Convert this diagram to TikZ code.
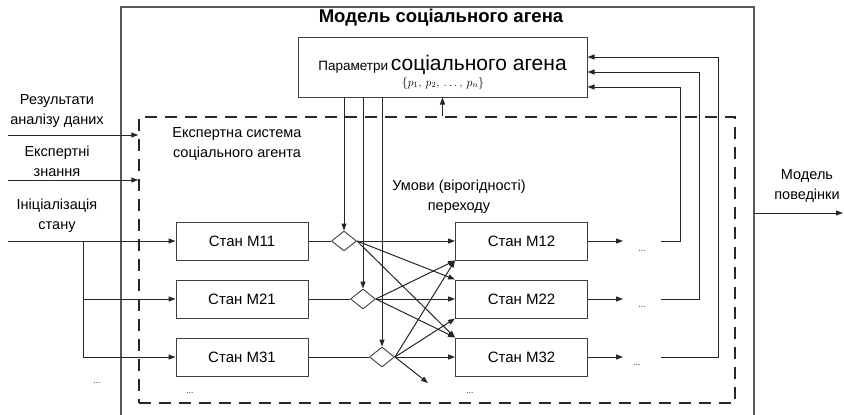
\documentclass[tikz,border=0pt]{standalone}
\usepackage{fontspec}
\setmainfont{Liberation Sans}
\usetikzlibrary{shapes.geometric,arrows.meta}
\tikzset{
  stanbox/.style={draw=black!75, line width=1pt, minimum width=132pt, minimum height=38pt, inner sep=0pt, font=\fontsize{15}{17}\selectfont},
  umova/.style={draw=black!75, line width=0.9pt, diamond, minimum width=25pt, minimum height=20pt, inner sep=0pt},
  lbl/.style={align=center, font=\fontsize{14.5}{20}\selectfont},
  dotsn/.style={font=\fontsize{8}{9}\selectfont, inner sep=0pt},
  link/.style={draw=black!85, line width=1pt},
  arr/.style={link, -{Triangle[length=7pt,width=5pt]}},
}
\begin{document}
\begin{tikzpicture}[x=1pt,y=-1pt]
      \useasboundingbox (0,0) rectangle (844,415);
      % outer model frame
      \draw[draw=black!65, line width=1.6pt] (121,415) |- (754,7) -- (754,415);
      \node[font=\fontsize{18.5}{20}\selectfont\bfseries] (title) at (441,18) {Модель соціального агена};
      \node[draw=black!75, line width=1pt, minimum width=289pt, minimum height=60pt, inner sep=0pt] (param) at (442.5,67) {};
      \node[anchor=base] (ptxt) at (442.5,70) {{\fontsize{13.5}{15}\selectfont Параметри} {\fontsize{21}{22}\selectfont соціального агена}};
      \node[font=\fontsize{12}{13}\selectfont] (pset) at (443,83) {$\{p_1,\, p_2,\, \dots,\, p_n\}$};
      \node[draw=black!85, line width=1.5pt, dash pattern=on 12pt off 8pt, minimum width=596pt, minimum height=286pt, inner sep=0pt] (expert) at (437,260) {};
      \node[lbl] (etxt) at (237,144) {Експертна система\\соціального агента};
      \node[lbl] (utxt) at (459,197) {Умови (вірогідності)\\переходу};
      % inputs
      \node[lbl] (in1txt) at (57,111) {Результати\\аналізу даних};
      \node[lbl] (in2txt) at (57,161) {Експертні\\знання};
      \node[lbl] (in3txt) at (57,216) {Ініціалізація\\стану};
      \node[lbl] (outtxt) at (807,186) {Модель\\поведінки};
      \coordinate (in1) at (8,135);
      \coordinate (in2) at (8,180);
      \coordinate (in3) at (8,241);
      \coordinate (br) at (83,241);
      \coordinate (out0) at (754,213);
      \coordinate (out1) at (843,213);
      % states
      \node[stanbox] (m11) at (242,241) {Стан М11};
      \node[stanbox] (m21) at (242,299) {Стан М21};
      \node[stanbox] (m31) at (242,357) {Стан М31};
      \node[stanbox] (m12) at (521.5,241) {Стан М12};
      \node[stanbox] (m22) at (521.5,299) {Стан М22};
      \node[stanbox] (m32) at (521.5,357) {Стан М32};
      \node[umova] (d1) at (344,241) {};
      \node[umova] (d2) at (363,299) {};
      \node[umova] (d3) at (382,357) {};
      \coordinate (free) at (428,383);
      % tails
      \coordinate (o12) at (623,241);
      \coordinate (o22) at (623,299);
      \coordinate (o32) at (623,357);
      \coordinate (f12) at (661,241);
      \coordinate (f22) at (661,299);
      \coordinate (f32) at (661,357);
      \coordinate (k12) at (680,87);
      \coordinate (k22) at (699,72);
      \coordinate (k32) at (718,57);
      \node[dotsn] (e12) at (642,251) {...};
      \node[dotsn] (e22) at (642,307) {...};
      \node[dotsn] (e32) at (637,365) {...};
      \node[dotsn] (e1) at (97,383) {...};
      \node[dotsn] (e2) at (190,393) {...};
      \node[dotsn] (e3) at (470,393) {...};
      \begin{scope}[arr]
        \draw (in1) -- (in1 -| expert.west);
        \draw (in2) -- (in2 -| expert.west);
        \draw (in3) -- (m11);
        \draw (br) |- (m21);
        \draw (br) |- (m31);
        \draw (out0) -- (out1);
        \draw (expert.north -| param.south) -- (param.south);
        \draw (d1.north |- param.south) -- (d1.north);
        \draw (d2.north |- param.south) -- (d2.north);
        \draw (d3.north |- param.south) -- (d3.north);
        \draw (d1.east) -- (m12);
        \draw (d1.east) -- (m22.north west);
        \draw (d1.east) -- (m32.north west);
        \draw (d2.east) -- (m12.south west);
        \draw (d2.east) -- (m22);
        \draw (d2.east) -- (m32.north west);
        \draw (d3.east) -- (m12.south west);
        \draw (d3.east) -- (m22.south west);
        \draw (d3.east) -- (m32);
        \draw (d3.east) -- (free);
        \draw (m12) -- (o12);
        \draw (m22) -- (o22);
        \draw (m32) -- (o32);
        \draw (f12) -| (k12) -- (k12 -| param.east);
        \draw (f22) -| (k22) -- (k22 -| param.east);
        \draw (f32) -| (k32) -- (k32 -| param.east);
      \end{scope}
      \begin{scope}[link]
        \draw (m11) -- (d1);
        \draw (m21) -- (d2);
        \draw (m31) -- (d3);
      \end{scope}
    \end{tikzpicture}
\end{document}
